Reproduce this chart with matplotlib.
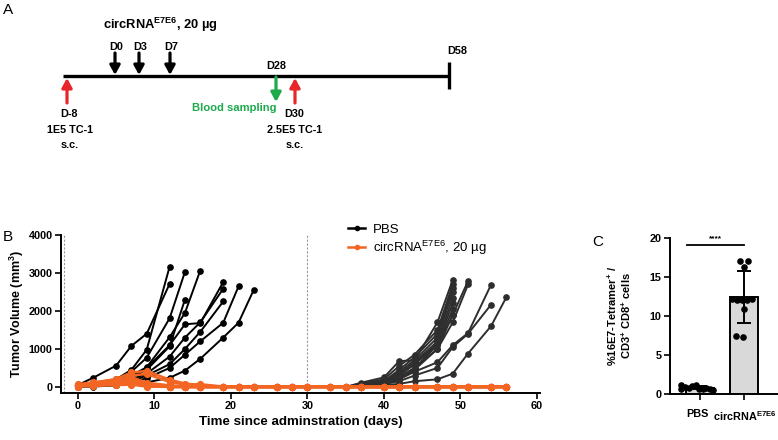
import numpy as np
import matplotlib
matplotlib.use('Agg')
import matplotlib.pyplot as plt
import matplotlib.transforms as mtransforms
from matplotlib.lines import Line2D

plt.rcParams['font.family'] = ['Liberation Sans', 'DejaVu Sans']
plt.rcParams['mathtext.fontset'] = 'custom'
plt.rcParams['mathtext.rm'] = 'Liberation Sans'
plt.rcParams['mathtext.bf'] = 'Liberation Sans:bold'
plt.rcParams['mathtext.it'] = 'Liberation Sans:italic'

# ---------------- data: panel B ----------------
pbs_days = [0, 2, 5, 7, 9, 12, 14, 16, 19, 21, 23]
pbs_volumes = [
    [50, 240, 560, 1080, 1400, 2716],
    [40, 60, 200, 450, 980, 3170],
    [30, 50, 150, 400, 770, 1810, 3030],
    [40, 40, 120, 300, 520, 1310, 1950, 3065],
    [30, 30, 100, 250, 450, 1070, 2300],
    [30, 60, 120, 250, 500, 1100, 1650, 1680, 2760],
    [20, 40, 100, 200, 350, 800, 1300, 1700, 2585],
    [20, 30, 80, 150, 300, 600, 1000, 1450, 2250],
    [10, 20, 60, 120, 230, 500, 850, 1200, 1690, 2646],
    [10, 10, 40, 80, 120, 240, 430, 740, 1300, 1690, 2560],
]

rechallenge_days = [35, 37, 40, 42, 44, 47, 49, 51, 54, 56]
rechallenge_volumes = [
    [0, 110, 250, 680, 700, 1700, 2820],
    [0, 80, 200, 550, 850, 1500, 2700],
    [0, 60, 150, 450, 780, 1400, 2600],
    [0, 50, 120, 400, 700, 1300, 2500],
    [0, 40, 100, 350, 650, 1200, 2350],
    [0, 30, 80, 300, 600, 1150, 2200],
    [0, 20, 60, 250, 500, 1100, 2050],
    [0, 10, 50, 200, 450, 1000, 1900],
    [0, 40, 150, 300, 600, 1100, 1900, 2790],
    [0, 30, 100, 250, 500, 1000, 1700, 2700],
    [0, 50, 100, 200, 400, 650, 1100, 1420, 2690],
    [0, 30, 80, 150, 300, 500, 1050, 1400, 2166],
    [0, 20, 50, 80, 150, 200, 350, 880, 1600, 2360],
]

circ_days = [0, 2, 5, 7, 9, 12, 14, 16, 19, 21, 23, 26, 28, 30, 33,
             35, 37, 40, 42, 44, 47, 49, 51, 54, 56]
circ_volumes = [
    [60, 110, 210, 380, 420, 190, 90, 50, 0, 0, 0, 0, 0, 0, 0, 0, 0, 0, 0, 0, 0, 0, 0, 0, 0],
    [40, 90, 160, 300, 340, 130, 60, 70, 10, 0, 0, 0, 0, 0, 0, 0, 0, 0, 0, 0, 0, 0, 0, 0, 0],
    [70, 120, 190, 260, 110, 40, 0, 30, 0, 0, 0, 0, 0, 0, 0, 0, 0, 0, 0, 0, 0, 0, 0, 0, 0],
    [30, 70, 130, 210, 60, 10, 0, 0, 0, 0, 0, 0, 0, 0, 0, 0, 0, 0, 0, 0, 0, 0, 0, 0, 0],
    [50, 80, 120, 170, 90, 30, 20, 0, 0, 0, 0, 0, 0, 0, 0, 0, 0, 0, 0, 0, 0, 0, 0, 0, 0],
    [20, 60, 100, 140, 40, 0, 0, 0, 0, 0, 0, 0, 0, 0, 0, 0, 0, 0, 0, 0, 0, 0, 0, 0, 0],
    [40, 50, 90, 120, 70, 20, 0, 0, 0, 0, 0, 0, 0, 0, 0, 0, 0, 0, 0, 0, 0, 0, 0, 0, 0],
    [30, 40, 70, 100, 30, 0, 0, 0, 0, 0, 0, 0, 0, 0, 0, 0, 0, 0, 0, 0, 0, 0, 0, 0, 0],
    [20, 30, 60, 80, 20, 0, 0, 0, 0, 0, 0, 0, 0, 0, 0, 0, 0, 0, 0, 0, 0, 0, 0, 0, 0],
    [10, 30, 50, 60, 10, 0, 0, 0, 0, 0, 0, 0, 0, 0, 0, 0, 0, 0, 0, 0, 0, 0, 0, 0, 0],
]

# ---------------- data: panel C ----------------
c_groups = ['PBS', 'circRNA$^{\\mathbf{E7E6}}$']
pbs_tetramer = [1.1, 0.9, 0.8, 1.0, 1.2, 0.7, 0.6, 0.8, 0.7, 0.5, 0.7]
circ_tetramer = [17.1, 17.0, 16.3, 12.2, 12.1, 12.0, 12.1, 12.2, 10.9, 7.5, 7.3]

# ---------------- data: panel A (timeline) ----------------
dose_labels = ['D0', 'D3', 'D7']

BLACK = '#000000'
DARK = '#2e2e2e'
ORANGE = '#F26522'
RED = '#E8262A'
GREEN = '#1DAA4B'

fig = plt.figure(figsize=(7.78, 4.40), dpi=100)

# overlay axes in pixel coordinates for the schematic and panel letters
ov = fig.add_axes([0, 0, 1, 1])
ov.set_xlim(0, 778)
ov.set_ylim(440, 0)
ov.axis('off')
ov.patch.set_visible(False)

ov.text(8, 10, 'A', fontsize=11, ha='center', va='center')
ov.text(8, 237, 'B', fontsize=11, ha='center', va='center')
ov.text(598, 242, 'C', fontsize=11, ha='center', va='center')

TL = 7.8
# timeline
ov.plot([63, 449], [76, 76], color='black', lw=2.4, solid_capstyle='butt')
ov.plot([449, 449], [62, 89], color='black', lw=2.4, solid_capstyle='butt')
ov.text(103, 25, 'circRNA$^{\\mathbf{E7E6}}$, 20 µg', fontsize=9.3,
        fontweight='bold', ha='left', va='center')

def arrow(x, y0, y1, color):
    ov.annotate('', xy=(x, y1), xytext=(x, y0),
                arrowprops=dict(arrowstyle='-|>,head_width=0.3,head_length=0.55',
                                lw=2.3, color=color, shrinkA=0, shrinkB=0,
                                mutation_scale=10))

for x, lab in zip([115, 139, 170], dose_labels):
    arrow(x, 53, 75, 'black')
    ov.text(x + 1, 47, lab, fontsize=TL, fontweight='bold', ha='center', va='center')

ov.text(457, 51, 'D58', fontsize=TL, fontweight='bold', ha='center', va='center')
ov.text(276, 66, 'D28', fontsize=TL, fontweight='bold', ha='center', va='center')

arrow(67, 103, 78, RED)
ov.text(69, 114, 'D-8', fontsize=TL, fontweight='bold', ha='center', va='center')
ov.text(70, 130, '1E5 TC-1', fontsize=TL, fontweight='bold', ha='center', va='center')
ov.text(70, 145, 's.c.', fontsize=TL, fontweight='bold', ha='center', va='center')

arrow(276, 77, 102, GREEN)
ov.text(234, 108, 'Blood sampling', fontsize=TL + 0.3, fontweight='bold', color=GREEN,
        ha='center', va='center')

arrow(295, 103, 78, RED)
ov.text(294, 114, 'D30', fontsize=TL, fontweight='bold', ha='center', va='center')
ov.text(295, 130, '2.5E5 TC-1', fontsize=TL, fontweight='bold', ha='center', va='center')
ov.text(295, 145, 's.c.', fontsize=TL, fontweight='bold', ha='center', va='center')

# ---------------- panel B ----------------
axB = fig.add_axes([61 / 778, 1 - 393 / 440, 479 / 778, 158 / 440])
for vals in pbs_volumes:
    axB.plot(pbs_days[:len(vals)], vals, color=BLACK, lw=1.4, marker='o', ms=3.8, zorder=3)
for vals in rechallenge_volumes:
    axB.plot(rechallenge_days[:len(vals)], vals, color=DARK, lw=1.4, marker='o', ms=3.8, zorder=3)
for vals in circ_volumes:
    axB.plot(circ_days[:len(vals)], vals, color=ORANGE, lw=1.8, marker='o', ms=4.2, zorder=4)

axB.axvline(-1.8, color='#999999', lw=0.8, ls=(0, (2, 1.5)), zorder=1)
axB.axvline(30, color='#999999', lw=0.8, ls=(0, (2, 1.5)), zorder=1)

axB.set_xlim(-2.2, 60.4)
axB.set_ylim(-160, 4000)
axB.set_xticks([0, 10, 20, 30, 40, 50, 60])
axB.set_yticks([0, 1000, 2000, 3000, 4000])
for s in ['top', 'right']:
    axB.spines[s].set_visible(False)
for s in ['left', 'bottom']:
    axB.spines[s].set_linewidth(1.4)
axB.tick_params(width=1.2, length=4, labelsize=7.8, pad=2)
for t in axB.get_xticklabels() + axB.get_yticklabels():
    t.set_fontweight('bold')
axB.set_xlabel('Time since adminstration (days)', fontsize=9.6, fontweight='bold', labelpad=3)
axB.set_ylabel('Tumor Volume (mm$^{\\mathbf{3}}$)', fontsize=9, fontweight='bold', labelpad=2)

handles = [Line2D([], [], color=BLACK, lw=1.8, marker='o', ms=3),
           Line2D([], [], color=ORANGE, lw=1.8, marker='o', ms=3)]
fig.legend(handles, ['PBS', 'circRNA$^{\\mathrm{E7E6}}$, 20 µg'],
           loc='upper left', bbox_to_anchor=(343 / 778, 1 - 218 / 440),
           frameon=False, fontsize=9.5, handlelength=1.3, handletextpad=0.6,
           labelspacing=0.25, borderaxespad=0)

# ---------------- panel C ----------------
axC = fig.add_axes([670 / 778, 1 - 394 / 440, 108 / 778, 156 / 440])
xs = [0, 1]
means = [np.mean(pbs_tetramer), np.mean(circ_tetramer)]
sds = [np.std(pbs_tetramer, ddof=1), np.std(circ_tetramer, ddof=1)]
axC.bar(xs, means, width=0.65, color='#D9D9D9', edgecolor='black', linewidth=1.4, zorder=1)
axC.errorbar(xs, means, yerr=sds, fmt='none', ecolor='black', elinewidth=1.4,
             capsize=5, capthick=1.4, zorder=2)
pbs_off = [-0.42, -0.34, -0.26, -0.18, -0.1, -0.02, 0.06, 0.14, 0.22, 0.3, -0.42]
circ_off = [-0.1, 0.1, 0.0, -0.28, -0.15, -0.04, 0.06, 0.19, 0.0, -0.18, -0.03]
axC.scatter(np.array(pbs_off), pbs_tetramer, s=14, color='black', zorder=3)
axC.scatter(1 + np.array(circ_off), circ_tetramer, s=14, color='black', zorder=3)

axC.plot([-0.3, 1.0], [19.1, 19.1], color='black', lw=1.3)
axC.text(0.35, 19.4, '****', fontsize=6, fontweight='bold', ha='center', va='bottom')

axC.set_xlim(-0.68, 1.77)
axC.set_ylim(0, 20)
axC.set_yticks([0, 5, 10, 15, 20])
axC.set_xticks(xs)
axC.set_xticklabels(c_groups)
for s in ['top', 'right']:
    axC.spines[s].set_visible(False)
for s in ['left', 'bottom']:
    axC.spines[s].set_linewidth(1.4)
axC.tick_params(width=1.2, length=4, labelsize=7.8, pad=2)
axC.tick_params(axis='x', pad=7)
for t in axC.get_xticklabels() + axC.get_yticklabels():
    t.set_fontweight('bold')
xl = axC.get_xticklabels()
xl[0].set_transform(xl[0].get_transform() +
                    mtransforms.ScaledTranslation(-3 / 100, 0, fig.dpi_scale_trans))
xl[1].set_transform(xl[1].get_transform() +
                    mtransforms.ScaledTranslation(1 / 100, 0, fig.dpi_scale_trans))
axC.set_ylabel('%16E7-Tetramer$^{\\mathbf{+}}$ /\nCD3$^{\\mathbf{+}}$ CD8$^{\\mathbf{+}}$ cells',
               fontsize=8, fontweight='bold', labelpad=12, linespacing=1.1)

fig.savefig('out.png', dpi=100)
